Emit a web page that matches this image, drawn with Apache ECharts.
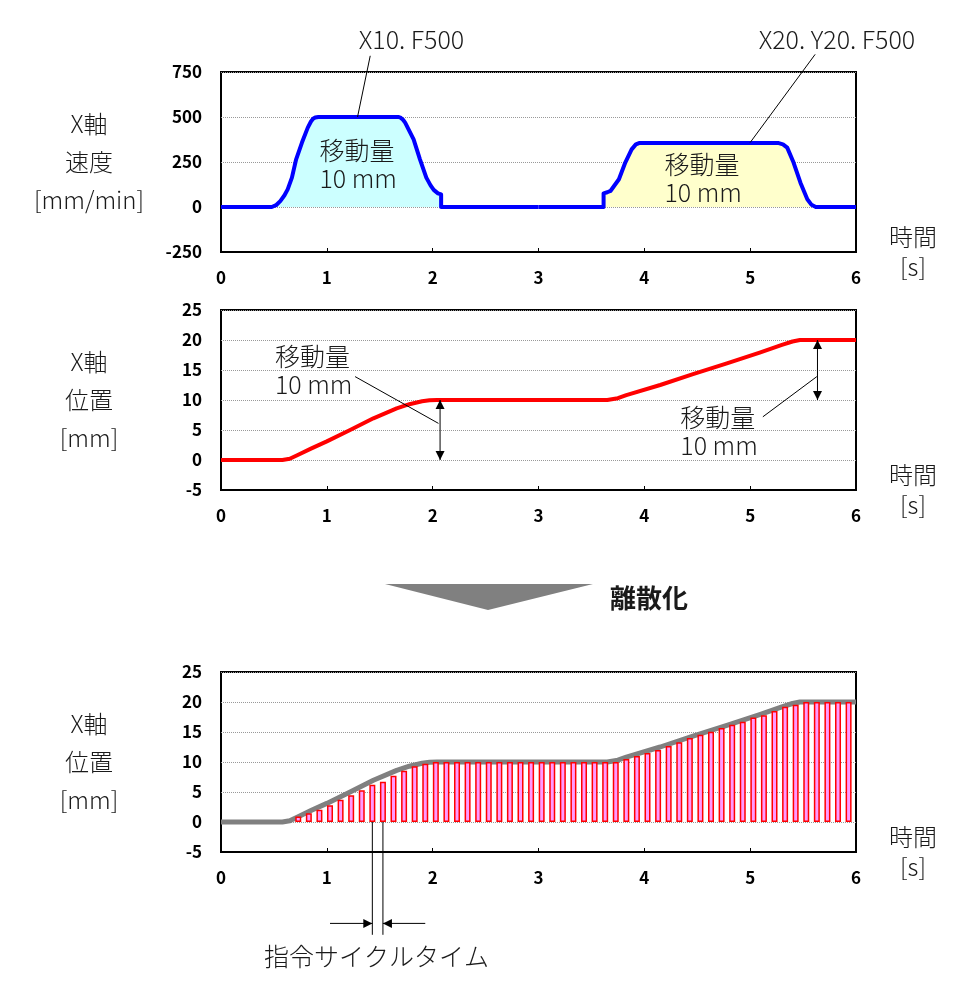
<!DOCTYPE html>
<html>
<head>
<meta charset="utf-8">
<script src="https://cdn.jsdelivr.net/npm/echarts@6/dist/echarts.min.js"></script>
<style>
  html, body { margin: 0; padding: 0; background: #fff; }
  #chart { width: 974px; height: 996px; }
</style>
</head>
<body>
<div id="chart"></div>
<script>
// 速度 (mm/min) — 1ブロック目 X10. F500
const speed1T = [0, 0.48, 0.52, 0.56, 0.6, 0.63, 0.67, 0.71, 0.765, 0.82, 0.85, 0.87, 0.89, 0.92, 1.68, 1.7, 1.72, 1.74, 1.82, 1.88, 1.94, 1.98, 2.01, 2.05, 2.08, 2.08, 3.0];
const speed1V = [0, 0, 10, 33, 65, 98, 163, 265, 358, 441, 475, 490, 497, 500, 500, 495, 485, 469, 376, 265, 163, 120, 95, 76, 70, 0, 0];
// 2ブロック目 X20. Y20. F500
const speed2T = [3.0, 3.615, 3.615, 3.65, 3.68, 3.76, 3.82, 3.88, 3.92, 3.95, 5.27, 5.31, 5.35, 5.41, 5.475, 5.54, 5.58, 5.62, 6];
const speed2V = [0, 0, 76, 82, 89, 154, 247, 320, 348, 355, 355, 348, 330, 247, 135, 43, 12, 0, 0];

// 位置 (mm)
const posT = [0, 0.58, 0.65, 0.72, 0.85, 1.0, 1.22, 1.44, 1.66, 1.78, 1.9, 1.97, 2.04, 3.65, 3.75, 3.83, 4.15, 4.46, 4.78, 5.09, 5.3, 5.4, 5.47, 6];
const posV = [0, 0, 0.2, 0.8, 1.9, 3.1, 5.0, 6.95, 8.6, 9.3, 9.8, 9.95, 10, 10, 10.3, 10.8, 12.5, 14.3, 16.1, 17.9, 19.2, 19.75, 20, 20];

// 離散化した位置指令
const stepT = [0.73, 0.83, 0.93, 1.03, 1.13, 1.23, 1.33, 1.43, 1.53, 1.63, 1.73, 1.83, 1.93,
  2.03, 2.13, 2.23, 2.33, 2.43, 2.53, 2.63, 2.73, 2.83, 2.93, 3.03, 3.13, 3.23, 3.33, 3.43, 3.53, 3.63, 3.73,
  3.83, 3.93, 4.03, 4.13, 4.23, 4.33, 4.43, 4.53, 4.63, 4.73, 4.83, 4.93, 5.03, 5.13, 5.23, 5.33, 5.43,
  5.53, 5.63, 5.73, 5.83, 5.93];
const stepV = [0.9, 1.45, 2.05, 2.8, 3.7, 4.45, 5.3, 6.2, 6.7, 7.7, 8.55, 9.3, 9.7,
  10, 10, 10, 10, 10, 10, 10, 10, 10, 10, 10, 10, 10, 10, 10, 10, 10, 10,
  10.5, 11.0, 11.5, 12.0, 12.67, 13.3, 14, 14.55, 15.05, 15.67, 16.2, 16.7, 17.4, 17.8, 18.5, 19.2, 19.55,
  20, 20, 20, 20, 20];

const xTicks = [0, 6, 1];
const speedTicks = [-250, 750, 250];
const posTicks = [-5, 25, 5];

const FONT = '"Noto Sans CJK JP", "Noto Sans", sans-serif';
const INK = "#1a1a1a";

function zip(xs, ys) {
  return xs.map((x, i) => [x, ys[i]]);
}

function makeGrid(top) {
  return {
    left: 221, top, width: 635, height: 180,
    show: true, borderColor: "#000", borderWidth: 2,
  };
}

function makeX(idx) {
  return {
    type: "value", gridIndex: idx,
    min: xTicks[0], max: xTicks[1], interval: xTicks[2],
    axisLine: { show: true, onZero: false, lineStyle: { color: "#000", width: 2 } },
    axisTick: { show: true, inside: true, length: 4, lineStyle: { color: "#000" } },
    axisLabel: { color: "#000", fontFamily: FONT, fontWeight: "bold", fontSize: 17, margin: 17 },
    splitLine: { show: false },
    name: "時間\n[s]",
    nameLocation: "end",
    nameGap: 57,
    nameTextStyle: {
      color: INK, fontFamily: FONT, fontWeight: 300, fontSize: 24,
      align: "center", verticalAlign: "middle", lineHeight: 30, padding: [30, 0, 0, 0],
    },
  };
}

function makeY(idx, ticks, name) {
  return {
    type: "value", gridIndex: idx,
    min: ticks[0], max: ticks[1], interval: ticks[2],
    axisLine: { show: false },
    axisTick: { show: false },
    axisLabel: { color: "#000", fontFamily: FONT, fontWeight: "bold", fontSize: 17, margin: 19 },
    splitLine: { show: true, lineStyle: { color: "#999", type: "dotted", width: 1 } },
    name,
    nameLocation: "middle",
    nameRotate: 0,
    nameGap: 132,
    nameTextStyle: {
      color: INK, fontFamily: FONT, fontWeight: 300, fontSize: 24,
      align: "center", verticalAlign: "middle", lineHeight: 38,
    },
  };
}

function curve(data, xi, color, extra) {
  return Object.assign({
    type: "line", xAxisIndex: xi, yAxisIndex: xi, z: 3,
    data, showSymbol: false, smooth: false,
    lineStyle: { color, width: 4, join: "round" },
  }, extra);
}

const chart = echarts.init(document.getElementById("chart"), null, { renderer: "canvas" });

chart.setOption({
  animation: false,
  backgroundColor: "#fff",
  grid: [makeGrid(72), makeGrid(310), makeGrid(672)],
  xAxis: [makeX(0), makeX(1), makeX(2)],
  yAxis: [
    makeY(0, speedTicks, "X軸\n速度\n[mm/min]"),
    makeY(1, posTicks, "X軸\n位置\n[mm]"),
    makeY(2, posTicks, "X軸\n位置\n[mm]"),
  ],
  series: [
    curve(zip(speed1T, speed1V), 0, "#0000ff", { areaStyle: { color: "#ccffff", opacity: 1 } }),
    curve(zip(speed2T, speed2V), 0, "#0000ff", { areaStyle: { color: "#ffffcc", opacity: 1 } }),
    curve(zip(posT, posV), 1, "#ff0000"),
    curve(zip(posT, posV), 2, "#808080", { z: 2, lineStyle: { color: "#808080", width: 5, join: "round" } }),
    {
      type: "bar", xAxisIndex: 2, yAxisIndex: 2, z: 3,
      data: zip(stepT, stepV), barWidth: 6,
      itemStyle: { color: "#ff99ff", borderColor: "#ff0000", borderWidth: 1.5 },
    },
  ],
});

// ---- 注記（データ座標から位置を求める） ----
function px(g, x, y) {
  return chart.convertToPixel({ gridIndex: g }, [x, y]);
}

function line(a, b, width) {
  return {
    type: "line", z: 10, silent: true,
    shape: { x1: a[0], y1: a[1], x2: b[0], y2: b[1] },
    style: { stroke: "#000", lineWidth: width || 1 },
  };
}

function head(tip, dir) {
  const l = 9, w = 4.5;
  const [x, y] = tip;
  const pts = {
    up: [[x, y], [x - w, y + l], [x + w, y + l]],
    down: [[x, y], [x - w, y - l], [x + w, y - l]],
    left: [[x, y], [x + l, y - w], [x + l, y + w]],
    right: [[x, y], [x - l, y - w], [x - l, y + w]],
  }[dir];
  return { type: "polygon", z: 10, silent: true, shape: { points: pts }, style: { fill: "#000" } };
}

function text(pos, str, align, size, weight) {
  return {
    type: "text", z: 10, silent: true,
    x: pos[0], y: pos[1],
    style: {
      text: str, fill: INK, fontFamily: FONT, fontSize: size || 24, fontWeight: weight || 300,
      align: align || "left", verticalAlign: "middle", lineHeight: 28,
    },
  };
}

function vArrow(g, x, yTop, yBottom) {
  const a = px(g, x, yTop), b = px(g, x, yBottom);
  return [line(a, b), head(a, "up"), head(b, "down")];
}

function buildGraphics() {
  const els = [];
  // 速度グラフ
  els.push(text(px(0, 1.8, 932), "X10. F500", "center", 25));
  els.push(line(px(0, 1.41, 840), px(0, 1.29, 500)));
  els.push(text(px(0, 5.82, 932), "X20. Y20. F500", "center", 25));
  els.push(line(px(0, 5.614, 848), px(0, 5.0, 358)));
  els.push(text(px(0, 0.93, 236), "移動量\n10 mm", "left", 25));
  els.push(text(px(0, 4.19, 159), "移動量\n10 mm", "left", 25));

  // 位置グラフ
  els.push(...vArrow(1, 2.07, 10, 0));
  els.push(line(px(1, 1.267, 13.9), px(1, 2.055, 6.1)));
  els.push(text(px(1, 0.51, 14.9), "移動量\n10 mm", "left", 25));
  els.push(...vArrow(1, 5.636, 20, 10));
  els.push(line(px(1, 5.12, 7.2), px(1, 5.63, 13.9)));
  els.push(text(px(1, 4.34, 4.7), "移動量\n10 mm", "left", 25));

  // 指令サイクルタイム
  const c1 = stepT[7], c2 = stepT[8];
  els.push(line(px(2, c1, 0), px(2, c1, -18.8)));
  els.push(line(px(2, c2, 0), px(2, c2, -18.8)));
  const l1 = px(2, c1, -16.9), r1 = px(2, c2, -16.9);
  els.push(line(px(2, 1.03, -16.9), l1), head(l1, "right"));
  els.push(line(px(2, 1.93, -16.9), r1), head(r1, "left"));
  els.push(text(px(2, 1.47, -22.4), "指令サイクルタイム", "center", 25));

  // 離散化の矢印
  els.push({
    type: "polygon", silent: true,
    shape: { points: [[385, 584], [593, 584], [488, 610]] },
    style: { fill: "#808080" },
  });
  els.push(text([610, 598], "離散化", "left", 26, "bold"));
  return els;
}

chart.setOption({ graphic: buildGraphics() });
</script>
</body>
</html>
